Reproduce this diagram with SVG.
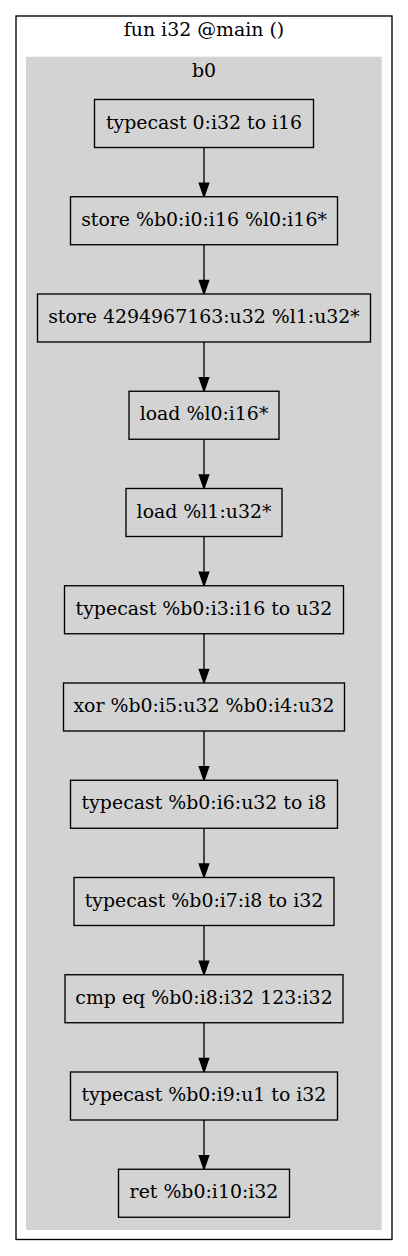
<svg xmlns="http://www.w3.org/2000/svg" width="408" height="1256" viewBox="0 0 408 1256">
<style>
text{font-family:"DejaVu Serif","Liberation Serif",serif;font-size:18.9px;text-anchor:middle;fill:#000}
.n rect{fill:#d3d3d3;stroke:#000;stroke-width:1.35}
.e line{stroke:#000;stroke-width:1.35}
.e polygon{fill:#000;stroke:#000;stroke-width:1.35}
</style>
<rect width="408" height="1256" fill="#fff"/>
<g id="cluster_main">
<rect x="16" y="16" width="376" height="1223.5" fill="#fff" stroke="#000" stroke-width="1.35"/>
<text x="204" y="36">fun i32 @main ()</text>
</g>
<g id="cluster_b0">
<rect x="26" y="56.7" width="355.7" height="1173.3" fill="#d3d3d3"/>
<text x="204" y="77.3">b0</text>
</g>
<g id="edges" class="e">
<line x1="204" y1="147.5" x2="204" y2="183.25"/><polygon points="199.3,183.25 208.7,183.25 204,196.75"/>
<line x1="204" y1="244.75" x2="204" y2="280.5"/><polygon points="199.3,280.5 208.7,280.5 204,294"/>
<line x1="204" y1="342" x2="204" y2="377.75"/><polygon points="199.3,377.75 208.7,377.75 204,391.25"/>
<line x1="204" y1="439.25" x2="204" y2="475"/><polygon points="199.3,475 208.7,475 204,488.5"/>
<line x1="204" y1="536.5" x2="204" y2="572.25"/><polygon points="199.3,572.25 208.7,572.25 204,585.75"/>
<line x1="204" y1="633.75" x2="204" y2="669.5"/><polygon points="199.3,669.5 208.7,669.5 204,683"/>
<line x1="204" y1="731" x2="204" y2="766.75"/><polygon points="199.3,766.75 208.7,766.75 204,780.25"/>
<line x1="204" y1="828.25" x2="204" y2="864"/><polygon points="199.3,864 208.7,864 204,877.5"/>
<line x1="204" y1="925.5" x2="204" y2="961.25"/><polygon points="199.3,961.25 208.7,961.25 204,974.75"/>
<line x1="204" y1="1022.75" x2="204" y2="1058.5"/><polygon points="199.3,1058.5 208.7,1058.5 204,1072"/>
<line x1="204" y1="1120" x2="204" y2="1155.75"/><polygon points="199.3,1155.75 208.7,1155.75 204,1169.25"/>
</g>
<g id="n0" class="n"><rect x="94.5" y="99.5" width="219" height="48"/><text x="204" y="128.5">typecast 0:i32 to i16</text></g>
<g id="n1" class="n"><rect x="70.5" y="196.75" width="267" height="48"/><text x="204" y="225.75">store %b0:i0:i16 %l0:i16*</text></g>
<g id="n2" class="n"><rect x="37.5" y="294" width="333" height="48"/><text x="204" y="323">store 4294967163:u32 %l1:u32*</text></g>
<g id="n3" class="n"><rect x="129" y="391.25" width="150" height="48"/><text x="204" y="420.25">load %l0:i16*</text></g>
<g id="n4" class="n"><rect x="126" y="488.5" width="156" height="48"/><text x="204" y="517.5">load %l1:u32*</text></g>
<g id="n5" class="n"><rect x="64.5" y="585.75" width="279" height="48"/><text x="204" y="614.75">typecast %b0:i3:i16 to u32</text></g>
<g id="n6" class="n"><rect x="63.5" y="683" width="281" height="48"/><text x="204" y="712">xor %b0:i5:u32 %b0:i4:u32</text></g>
<g id="n7" class="n"><rect x="70.5" y="780.25" width="267" height="48"/><text x="204" y="809.25">typecast %b0:i6:u32 to i8</text></g>
<g id="n8" class="n"><rect x="74" y="877.5" width="260" height="48"/><text x="204" y="906.5">typecast %b0:i7:i8 to i32</text></g>
<g id="n9" class="n"><rect x="65" y="974.75" width="278" height="48"/><text x="204" y="1003.75">cmp eq %b0:i8:i32 123:i32</text></g>
<g id="n10" class="n"><rect x="70.5" y="1072" width="267" height="48"/><text x="204" y="1101">typecast %b0:i9:u1 to i32</text></g>
<g id="n11" class="n"><rect x="118.5" y="1169.25" width="171" height="48"/><text x="204" y="1198.25">ret %b0:i10:i32</text></g>
</svg>
